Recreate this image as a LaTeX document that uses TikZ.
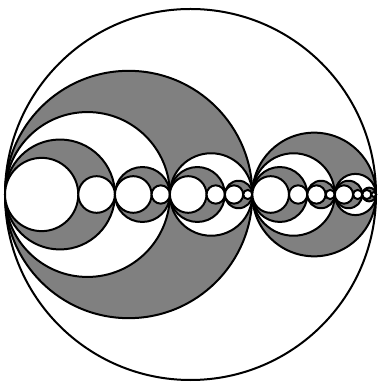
\documentclass[tikz,border=0pt]{standalone}
\usepackage{tikz}

\tikzset{ring/.style={draw=black, line width=2pt}}

% circle on the diameter [#1,#2], #3 more levels, fill #4, children get #5
\newcommand\chainfill[5]{%
  \begingroup
  \pgfmathsetmacro\chL{#1}\pgfmathsetmacro\chR{#2}%
  \pgfmathsetmacro\chM{\chL+2*(\chR-\chL)/3}%
  \pgfmathsetmacro\chC{(\chL+\chR)/2}%
  \pgfmathsetmacro\chW{(\chR-\chL)/2}%
  \draw[ring, fill=#4] (\chC,187.5) circle (\chW pt);
  \ifnum#3>0
    \pgfmathtruncatemacro\chD{#3-1}%
    \chainfill{\chL}{\chM}{\chD}{#5}{#4}%
    \chainfill{\chM}{\chR}{\chD}{#5}{#4}%
  \fi
  \endgroup}

\begin{document}
\begin{tikzpicture}[x=1pt, y=1pt]
    \useasboundingbox (0,0) rectangle (379,382);

    \chainfill{5}{376}{4}{white}{gray};
\end{tikzpicture}
\end{document}
